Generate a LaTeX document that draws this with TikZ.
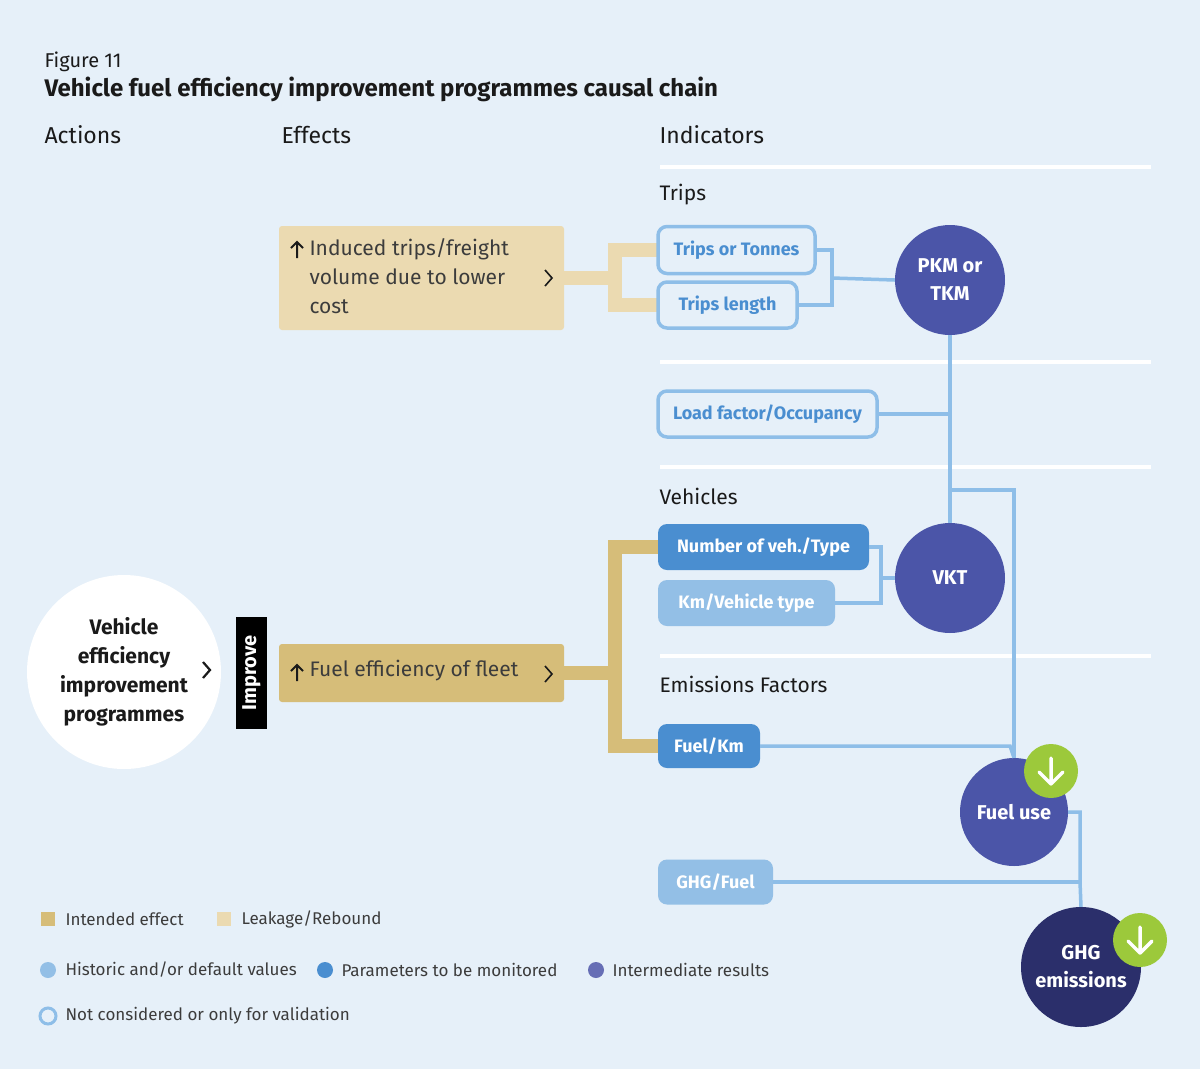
\documentclass[tikz,border=0pt]{standalone}
\usepackage{fontspec}
\setmainfont{Fira Sans}
\usetikzlibrary{calc}
\definecolor{bg}{HTML}{E6F0F9}
\definecolor{leak}{HTML}{EBDAB1}
\definecolor{intd}{HTML}{D6BD79}
\definecolor{lblue}{HTML}{8EBEE8}
\definecolor{mblue}{HTML}{4A8ED0}
\definecolor{hblue}{HTML}{93BFE6}
\definecolor{purp}{HTML}{4B55A8}
\definecolor{dpurp}{HTML}{2B2F6B}
\definecolor{green}{HTML}{9CC93B}
\definecolor{txt}{HTML}{1A1A1A}
\begin{document}
\begin{tikzpicture}[x=1pt,y=-1pt,
 box/.style={rounded corners=9pt,inner sep=0pt,font=\fontsize{18}{20}\selectfont\bfseries},
 obox/.style={box,draw=lblue,line width=3.5pt,fill=bg,text=mblue},
 pbox/.style={box,fill=mblue,text=white},
 hbox/.style={box,fill=hblue,text=white},
 circ/.style={circle,inner sep=0pt,text=white,align=center,font=\fontsize{20}{28}\selectfont\bfseries},
 conn/.style={draw=lblue,line width=3.5pt},
 tan/.style={line width=14pt},
 wl/.style={draw=white,line width=4pt},
 hdr/.style={anchor=west,font=\fontsize{23}{26}\selectfont,text=txt},
 leg/.style={anchor=west,font=\fontsize{17}{20}\selectfont,text=txt!85},
 chev/.style={draw=txt,line width=1.6pt},
 upar/.style={draw=txt,line width=2pt,line join=miter},
 grn/.style={circle,fill=green,minimum size=54pt,inner sep=0pt}]
\fill[bg] (0,0) rectangle (1200,1069);
\useasboundingbox (0,0) rectangle (1200,1069);
\node[anchor=west,font=\fontsize{20}{22}\selectfont,text=txt] (fig) at (41,62) {Figure 11};
\node[anchor=west,font=\fontsize{24}{28}\selectfont\bfseries,text=txt] (title) at (41,89) {Vehicle fuel efficiency improvement programmes causal chain};
\node[hdr] (h1) at (41,135) {Actions};
\node[hdr] (h2) at (278,135) {Effects};
\node[hdr] (h3) at (656,135) {Indicators};
\foreach \y in {167,362,467,656} \draw[wl] (660,\y) -- (1151,\y);
\node[hdr,font=\fontsize{21}{24}\selectfont] (s1) at (656,195) {Trips};
\node[hdr,font=\fontsize{21}{24}\selectfont] (s2) at (656,496) {Vehicles};
\node[hdr,font=\fontsize{21}{24}\selectfont] (s3) at (656,684) {Emissions Factors};
% tan brackets
\draw[leak,tan] (564,278) -- (615,278);
\draw[leak,tan] (660,250) -| (615,305) -- (660,305);
\draw[intd,tan] (564,673) -- (615,673);
\draw[intd,tan] (660,547) -| (615,746) -- (660,746);
% effect boxes
\node[fill=leak,rounded corners=3pt,minimum width=285pt,minimum height=104pt,inner sep=0pt] (leakb) at (421.5,278) {};
\node[font=\fontsize{21}{29}\selectfont,text=txt!85,anchor=north west,align=left] (leakt) at (306,235) {Induced trips/freight\\volume due to lower\\cost};
\draw[upar] (297,258) -- (297,242) (291,248) -- (297,242) -- (303,248);
\draw[chev] (545,270) -- (552,278) -- (545,286);
\node[fill=intd,rounded corners=3pt,minimum width=285pt,minimum height=58pt,inner sep=0pt] (fuelb) at (421.5,673) {};
\node[font=\fontsize{21}{24}\selectfont,text=txt!85,anchor=west] (fuelt) at (306,671) {Fuel efficiency of fleet};
\draw[upar] (297,681) -- (297,665) (291,671) -- (297,665) -- (303,671);
\draw[chev] (545,666) -- (552,674) -- (545,682);
% indicator boxes
\node[obox,minimum width=157pt,minimum height=47pt] (tt) at (736.5,250) {Trips or Tonnes};
\node[obox,minimum width=139pt,minimum height=46pt] (tl) at (727.5,305) {Trips length};
\node[obox,minimum width=219pt,minimum height=46pt] (lf) at (767.5,414) {Load factor/Occupancy};
\node[pbox,minimum width=211pt,minimum height=46pt] (nv) at (763.5,547) {Number of veh./Type};
\node[hbox,minimum width=177pt,minimum height=46pt] (kv) at (746.5,603) {Km/Vehicle type};
\node[pbox,minimum width=102pt,minimum height=44pt] (fk) at (709,746) {Fuel/Km};
\node[hbox,minimum width=115pt,minimum height=45pt] (gf) at (715.5,882) {GHG/Fuel};
% circles
\node[circ,fill=purp,minimum size=110pt] (pkm) at (950,280) {PKM or\\TKM};
\node[circ,fill=purp,minimum size=110pt] (vkt) at (950,578) {VKT};
\node[circ,fill=purp,minimum size=108pt] (fu) at (1014,812) {Fuel use};
\node[circ,fill=dpurp,minimum size=120pt] (ghg) at (1081,967) {GHG\\emissions};
\node[grn] (g3) at (1051,771) {};
\node[grn] (g4) at (1140,940) {};
\foreach \n in {g3,g4}{\draw[white,line width=3.5pt,line cap=round,line join=round] ($(\n)+(0,-13)$) -- ($(\n)+(0,13)$) ($(\n)+(-12,1)$) -- ($(\n)+(0,13)$) -- ($(\n)+(12,1)$);}
% connectors
\coordinate (j1) at (832,278);
\draw[conn] (tt.east) -| (j1) |- (tl.east);
\draw[conn] (j1) -- (pkm.west);
\draw[conn] (pkm.south) -- (vkt.north);
\draw[conn] (lf.east) -- (950,414);
\coordinate (j2) at (950,490);
\draw[conn] (j2) -| (fu.north);
\coordinate (j3) at (881,578);
\draw[conn] (nv.east) -| (j3) |- (kv.east);
\draw[conn] (j3) -- (vkt.west);
\draw[conn] (fk.east) -- (1010,746) -- (fu.north);
\coordinate (j4) at (1080,882);
\draw[conn] (fu.east) -| (j4) -- (ghg.north);
\draw[conn] (gf.east) -- (j4);
% action
\node[circle,fill=white,minimum size=194pt,inner sep=0pt,align=center,font=\fontsize{21}{29}\selectfont\bfseries,text=txt] (veh) at (124,672) {Vehicle\\efficiency\\improvement\\programmes};
\draw[chev,line width=2.2pt] (203,662) -- (210,670) -- (203,678);
\node[fill=black,minimum width=31pt,minimum height=112pt,inner sep=0pt] (imp) at (251.5,673) {};
\node[rotate=90,text=white,font=\fontsize{20}{22}\selectfont\bfseries] (impt) at (251.5,673) {Improve};
% legend
\fill[intd] (41,912) rectangle (55,926);
\node[leg] (l1) at (62,919) {Intended effect};
\fill[leak] (217,912) rectangle (231,926);
\node[leg] (l2) at (238,919) {Leakage/Rebound};
\fill[hblue] (48,970) circle (8);
\node[leg] (l3) at (62,970) {Historic and/or default values};
\fill[mblue] (325,970) circle (8);
\node[leg] (l4) at (338,970) {Parameters to be monitored};
\fill[purp!85] (596,970) circle (8);
\node[leg] (l5) at (609,970) {Intermediate results};
\draw[lblue,line width=3pt] (48,1016) circle (8);
\node[leg] (l6) at (62,1016) {Not considered or only for validation};
\end{tikzpicture}
\end{document}
